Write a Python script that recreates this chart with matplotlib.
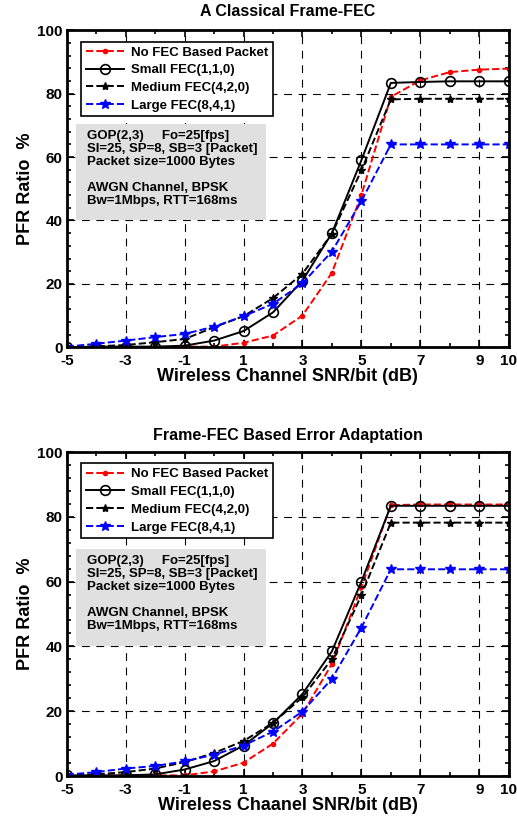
import matplotlib.pyplot as plt
from matplotlib.patches import Rectangle
from matplotlib.ticker import MultipleLocator
import numpy as np

plt.rcParams['font.family'] = ['Liberation Sans', 'DejaVu Sans']
plt.rcParams['font.weight'] = 'bold'
plt.rcParams['axes.unicode_minus'] = False

# SNR/bit (dB)
snr = [-5, -4, -3, -2, -1, 0, 1, 2, 3, 4, 5, 6, 7, 8, 9, 10]

# top: A Classical Frame-FEC
top_nofec = [0, 0, 0, 0, 0.2, 0.2, 1.4, 3.7, 10, 23.5, 48, 79, 84.2, 86.8, 87.6, 87.9]
top_small = [0, 0.2, 0.2, 0.2, 0.5, 2.1, 5.1, 11, 21, 36, 59, 83.4, 83.7, 83.9, 83.9, 83.9]
top_medium = [0, 0.3, 0.7, 1.6, 2.6, 6.3, 9.8, 15.5, 23.2, 35.8, 55.8, 78.2, 78.4, 78.4, 78.4, 78.4]
top_large = [0.2, 1.1, 2.1, 3.2, 4.2, 6.5, 9.8, 13.7, 20.2, 30.2, 46.1, 64, 64, 64, 64, 64]

# bottom: Frame-FEC Based Error Adaptation
bot_nofec = [0.2, 0.2, 0.2, 0.2, 0.2, 1.4, 4.1, 10, 19.2, 34.6, 58.2, 83.6, 83.8, 83.8, 83.8, 83.8]
bot_small = [0.2, 0.2, 0.2, 0.5, 2, 4.6, 9.4, 16.3, 25.3, 38.5, 60, 83.4, 83.4, 83.4, 83.4, 83.4]
bot_medium = [0.2, 0.5, 1.2, 2.3, 4.3, 7.1, 10.8, 16.4, 24.3, 36.1, 55.8, 78.2, 78.2, 78.2, 78.2, 78.2]
bot_large = [0.4, 1.2, 2.3, 3.1, 4.5, 6.6, 9.4, 13.7, 19.9, 30, 45.8, 63.8, 63.8, 63.8, 63.8, 63.8]

labels = ['No FEC Based Packet', 'Small FEC(1,1,0)', 'Medium FEC(4,2,0)', 'Large FEC(8,4,1)']
xticks = [-5, -3, -1, 1, 3, 5, 7, 9, 10]
yticks = [0, 20, 40, 60, 80, 100]

info = ("GOP(2,3)     Fo=25[fps]\n"
        "SI=25, SP=8, SB=3 [Packet]\n"
        "Packet size=1000 Bytes\n"
        "\n"
        "AWGN Channel, BPSK\n"
        "Bw=1Mbps, RTT=168ms")

fig = plt.figure(figsize=(5.17, 8.19), dpi=100)
ax1 = fig.add_axes([0.129, 0.576, 0.855, 0.387])
ax2 = fig.add_axes([0.129, 0.0525, 0.855, 0.3956])


def draw(ax, nofec, small, medium, large, title, xlabel, box_top, tpad):
    ax.plot(snr, nofec, 'r--', marker='.', ms=6, lw=1.4, label=labels[0])
    ax.plot(snr, small, 'k-', marker='o', ms=7, mfc='none', mew=1.2, lw=1.4, label=labels[1])
    ax.plot(snr, medium, 'k--', marker='*', ms=6, lw=1.4, label=labels[2])
    ax.plot(snr, large, 'b--', marker='*', ms=7, lw=1.4, label=labels[3])
    ax.set_xlim(-5, 10)
    ax.set_ylim(0, 100)
    ax.set_xticks(xticks)
    ax.set_yticks(yticks)
    ax.xaxis.set_minor_locator(MultipleLocator(1))
    ax.yaxis.set_minor_locator(MultipleLocator(4))
    ax.tick_params(which='both', direction='in', top=True, right=True, labelsize=11, width=1.2)
    ax.tick_params(which='major', length=5)
    ax.tick_params(which='minor', length=3)
    ax.tick_params(axis='x', pad=5)
    ax.tick_params(axis='y', pad=3)
    for lab in ax.get_xticklabels() + ax.get_yticklabels():
        lab.set_fontweight('bold')
    ax.grid(True, which='major', color='black', linestyle=(0, (7, 6)), linewidth=0.8)
    for s in ax.spines.values():
        s.set_linewidth(2)
    ax.set_title(title, fontsize=11.5, fontweight='bold', pad=tpad)
    ax.set_xlabel(xlabel, fontsize=13, fontweight='bold', labelpad=0)
    ax.set_ylabel('PFR Ratio  %', fontsize=13, fontweight='bold', labelpad=2)
    leg = ax.legend(loc='upper left', bbox_to_anchor=(0.018, 0.985), fontsize=9.5,
                    frameon=True, fancybox=False, edgecolor='black', borderpad=0.35,
                    labelspacing=0.42, handlelength=2.9, handletextpad=0.5)
    leg.get_frame().set_linewidth(1.2)
    leg.get_frame().set_alpha(1)
    for t in leg.get_texts():
        t.set_fontweight('bold')
    ax.add_patch(Rectangle((0.022, box_top - 0.30), 0.43, 0.30, transform=ax.transAxes,
                           facecolor='#e0e0e0', edgecolor='none', zorder=3))
    ax.text(0.045, box_top - 0.018, info, transform=ax.transAxes, va='top', ha='left',
            fontsize=9.5, fontweight='bold', linespacing=1.1, zorder=4)


draw(ax1, top_nofec, top_small, top_medium, top_large,
     'A Classical Frame-FEC', 'Wireless Channel SNR/bit (dB)', 0.703, 10)
draw(ax2, bot_nofec, bot_small, bot_medium, bot_large,
     'Frame-FEC Based Error Adaptation', 'Wireless Chaanel SNR/bit (dB)', 0.70, 9)

fig.savefig('out.png', dpi=100)
